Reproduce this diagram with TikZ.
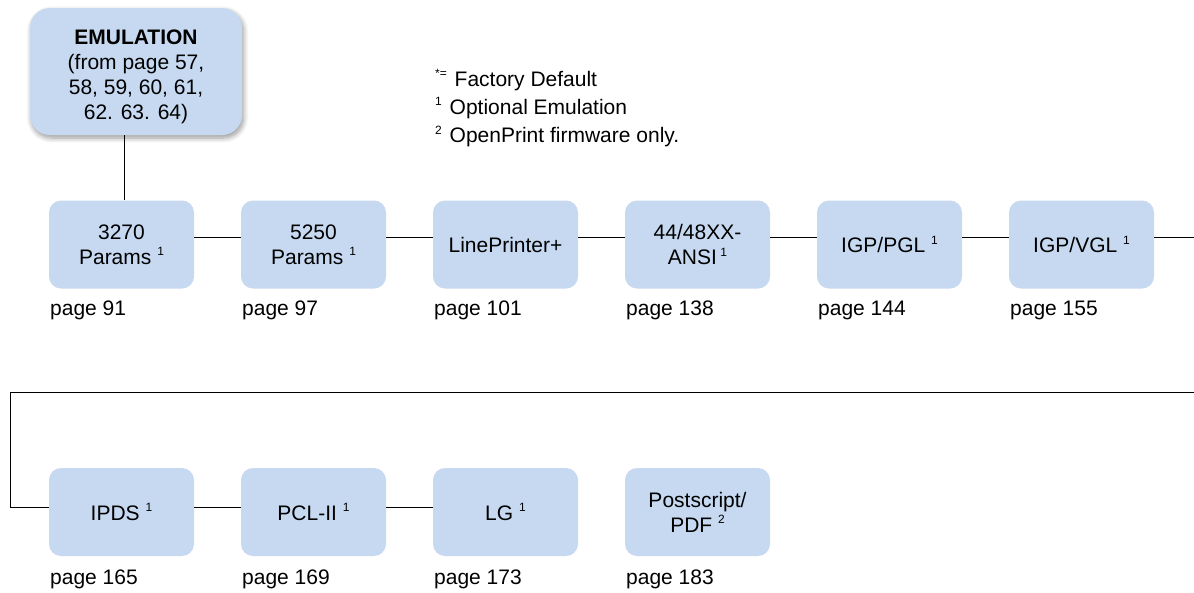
\documentclass[tikz,border=0pt]{standalone}
\usepackage{fontspec}
\setmainfont{Liberation Sans}
\usetikzlibrary{shadows.blur}
\definecolor{boxblue}{HTML}{C6D9F1}
\newcommand{\supnum}[1]{\raisebox{0.75ex}{\fontsize{12}{12}\selectfont #1}}
\tikzset{
  mainfont/.style={font=\fontsize{21}{25}\selectfont},
  menubox/.style={mainfont, fill=boxblue, draw=none, rounded corners=12pt,
    minimum width=145pt, minimum height=88pt, inner sep=0pt, align=center},
  emubox/.style={mainfont, fill=boxblue, draw=none, rounded corners=20pt,
    minimum width=212pt, minimum height=127pt, inner sep=0pt, align=center,
    blur shadow={shadow xshift=1.5pt, shadow yshift=-3pt, shadow blur steps=8, shadow blur radius=5pt, shadow opacity=40}},
  pagelabel/.style={mainfont, anchor=west, inner sep=0pt},
  legend/.style={mainfont, anchor=west, inner sep=0pt},
  conn/.style={draw=black, line width=1pt}
}
\begin{document}
\begin{tikzpicture}[x=1pt,y=-1pt]
\useasboundingbox (0,0) rectangle (1194,592);

\node[emubox] (emu) at (136,71.5) {\raisebox{-5pt}[\height][\depth]{\begin{tabular}{@{}c@{}}\textbf{EMULATION}\\(from page 57,\\58, 59, 60, 61,\\62. 63. 64)\end{tabular}}};

\node[legend] (lg1) at (435,80) {\supnum{*=}\hspace{2pt} Factory Default};
\node[legend] (lg2) at (435,108) {\supnum{1}\hspace{2pt} Optional Emulation};
\node[legend] (lg3) at (435,136.5) {\supnum{2}\hspace{2pt} OpenPrint firmware only.};

% row 1
\node[menubox] (b1) at (121.5,244.5) {3270\\Params \supnum{1}};
\node[menubox] (b2) at (313.5,244.5) {5250\\Params \supnum{1}};
\node[menubox] (b3) at (505.5,244.5) {LinePrinter+};
\node[menubox] (b4) at (697.5,244.5) {44/48XX-\\ANSI\,\supnum{1}};
\node[menubox] (b5) at (889.5,244.5) {IGP/PGL \supnum{1}};
\node[menubox] (b6) at (1081.5,244.5) {IGP/VGL \supnum{1}};

\node[pagelabel] (p1) at (50,310) {page 91};
\node[pagelabel] (p2) at (242,310) {page 97};
\node[pagelabel] (p3) at (434,310) {page 101};
\node[pagelabel] (p4) at (626,310) {page 138};
\node[pagelabel] (p5) at (818,310) {page 144};
\node[pagelabel] (p6) at (1010,310) {page 155};

% row 2
\node[menubox] (c1) at (121.5,512) {IPDS \supnum{1}};
\node[menubox] (c2) at (313.5,512) {PCL-II \supnum{1}};
\node[menubox] (c3) at (505.5,512) {LG \supnum{1}};
\node[menubox] (c4) at (697.5,512) {Postscript/\\PDF \supnum{2}};

\node[pagelabel] (q1) at (50,579) {page 165};
\node[pagelabel] (q2) at (242,579) {page 169};
\node[pagelabel] (q3) at (434,579) {page 173};
\node[pagelabel] (q4) at (626,579) {page 183};

% connectors
\draw[conn] ([xshift=3pt]b1.north) -- ([xshift=3pt]b1.north |- emu.south);
\draw[conn] ([yshift=7.5pt]b1.east) -- ([yshift=7.5pt]b2.west);
\draw[conn] ([yshift=7.5pt]b2.east) -- ([yshift=7.5pt]b3.west);
\draw[conn] ([yshift=7.5pt]b3.east) -- ([yshift=7.5pt]b4.west);
\draw[conn] ([yshift=7.5pt]b4.east) -- ([yshift=7.5pt]b5.west);
\draw[conn] ([yshift=7.5pt]b5.east) -- ([yshift=7.5pt]b6.west);
\coordinate (edgeA) at (1194,237);
\draw[conn] ([yshift=7.5pt]b6.east) -- (edgeA);
\coordinate (edgeB) at (1194,392);
\coordinate (wrapL) at (10,392);
\draw[conn] (edgeB) -- (wrapL) |- ([yshift=5pt]c1.west);
\draw[conn] ([yshift=5pt]c1.east) -- ([yshift=5pt]c2.west);
\draw[conn] ([yshift=5pt]c2.east) -- ([yshift=5pt]c3.west);
\end{tikzpicture}
\end{document}
